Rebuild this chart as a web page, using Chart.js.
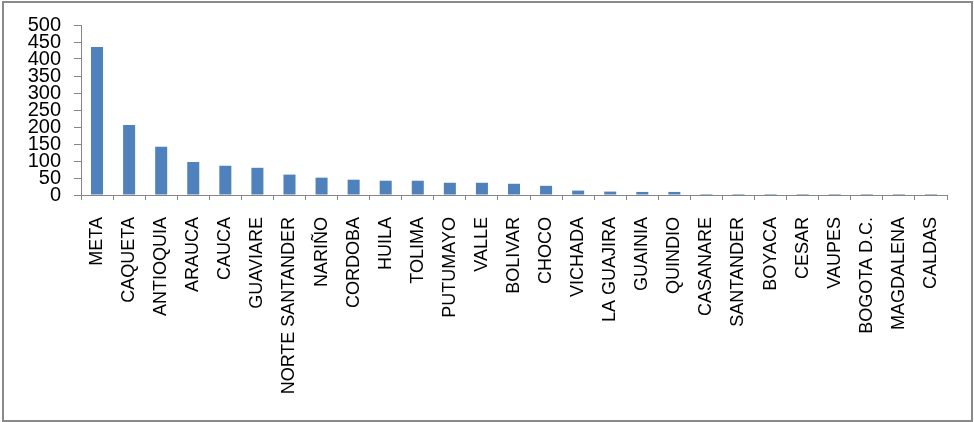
<!DOCTYPE html>
<html>
<head>
<meta charset="utf-8">
<script src="https://cdn.jsdelivr.net/npm/chart.js@4.4.1/dist/chart.umd.min.js"></script>
<style>
  html, body { margin: 0; padding: 0; background: #fff; }
  #wrap { position: relative; width: 974px; height: 422px; }
  #frame { position: absolute; left: 2px; top: 1px; width: 971px; height: 421px; box-sizing: border-box; border: 2px solid #8a8a8a; pointer-events: none; }
  canvas { position: absolute; left: 0; top: 0; }
</style>
</head>
<body>
<div id="wrap">
  <canvas id="c" width="974" height="422"></canvas>
  <div id="frame"></div>
</div>
<script>
const categories = ["META", "CAQUETA", "ANTIOQUIA", "ARAUCA", "CAUCA", "GUAVIARE", "NORTE SANTANDER", "NARIÑO", "CORDOBA", "HUILA", "TOLIMA", "PUTUMAYO", "VALLE", "BOLIVAR", "CHOCO", "VICHADA", "LA GUAJIRA", "GUAINIA", "QUINDIO", "CASANARE", "SANTANDER", "BOYACA", "CESAR", "VAUPES", "BOGOTA D.C.", "MAGDALENA", "CALDAS"];
const values = [435, 206, 142, 97, 86, 80, 60, 51, 45, 42, 42, 36, 36, 33, 27, 13, 10, 9, 9, 3, 3, 3, 3, 3, 3, 3, 3];
const yTicks = [0, 50, 100, 150, 200, 250, 300, 350, 400, 450, 500];

const axisColor = '#868686';

new Chart(document.getElementById('c'), {
  type: 'bar',
  data: {
    labels: categories,
    datasets: [{
      data: values,
      backgroundColor: '#4F81BD',
      borderWidth: 0,
      barPercentage: 0.75,
      categoryPercentage: 0.5
    }]
  },
  options: {
    responsive: false,
    animation: false,
    devicePixelRatio: 1,
    layout: { padding: { left: 0, top: 25, right: 27, bottom: 0 } },
    plugins: { legend: { display: false }, tooltip: { enabled: false } },
    scales: {
      x: {
        grid: { display: true, drawOnChartArea: false, drawTicks: true, tickLength: 5, color: axisColor, offset: true },
        border: { display: true, color: axisColor, width: 1 },
        ticks: {
          autoSkip: false, maxRotation: 90, minRotation: 90, padding: 17,
          color: '#000', font: { family: 'Liberation Sans', size: 18 }
        },
        afterFit: (s) => { s.height = 227; }
      },
      y: {
        min: 0, max: 500,
        afterBuildTicks: (s) => { s.ticks = yTicks.map(v => ({ value: v })); },
        grid: { display: true, drawOnChartArea: false, drawTicks: true, tickLength: 7, color: axisColor },
        border: { display: true, color: axisColor, width: 1 },
        ticks: {
          autoSkip: false, padding: 13, color: '#000', font: { family: 'Liberation Sans', size: 20 }
        },
        afterFit: (s) => { s.width = 81; }
      }
    }
  }
});
</script>
</body>
</html>
